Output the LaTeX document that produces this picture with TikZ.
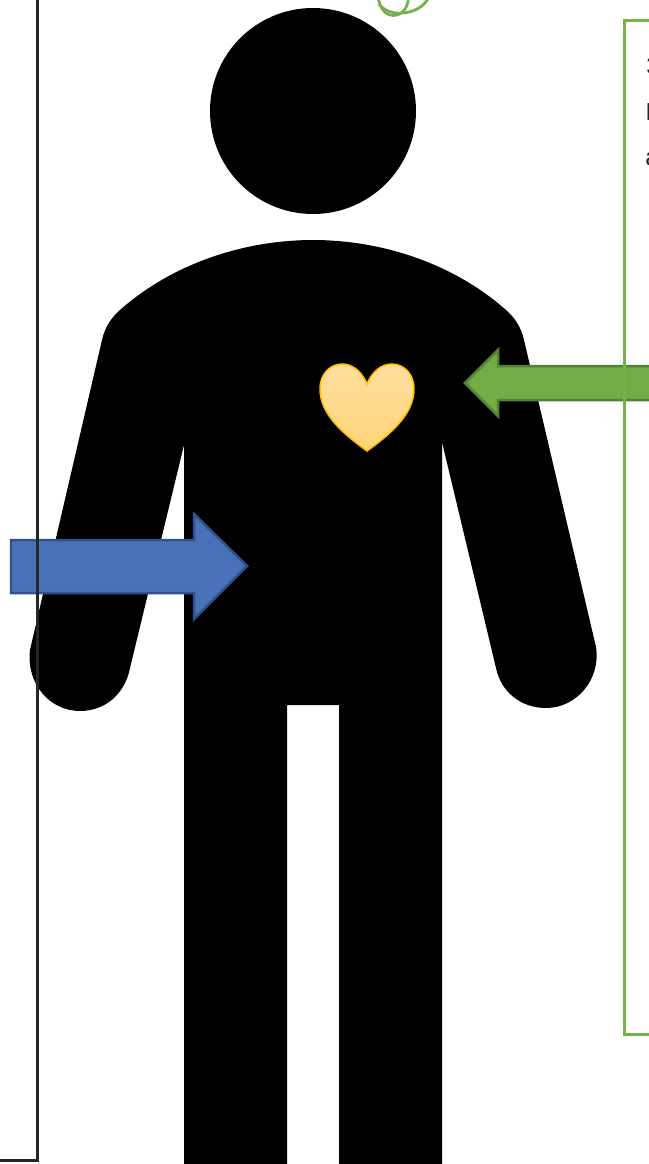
\documentclass[tikz,border=0pt]{standalone}
\usepackage{fontspec}
\setmainfont{Liberation Sans}
\usepackage{xcolor}
\usetikzlibrary{arrows.meta,positioning}
\definecolor{framegreen}{HTML}{74B04C}
\definecolor{arrowgreen}{HTML}{70AD47}
\definecolor{edgegreen}{HTML}{548235}
\definecolor{arrowblue}{HTML}{4A70B8}
\definecolor{edgeblue}{HTML}{2F528F}
\definecolor{frameblack}{HTML}{262626}
\definecolor{heartgold}{HTML}{FFC000}
\definecolor{hearttop}{HTML}{FFDE9E}
\definecolor{heartlow}{HTML}{FFD478}

\begin{document}
\begin{tikzpicture}[
    x=0.02cm, y=-0.02cm,
    figure/.style={fill=black},
    frameline/.style={draw=frameblack, line width=0.055cm},
    greenline/.style={draw=framegreen, line width=0.055cm},
    blockblue/.style={fill=arrowblue, draw=edgeblue, line width=0.05cm, miter limit=10},
    blockgreen/.style={fill=arrowgreen, draw=edgegreen, line width=0.05cm, miter limit=10},
    heartshape/.style={draw=heartgold, line width=0.03cm,
                       top color=hearttop, bottom color=heartlow},
    cuttext/.style={anchor=base west, inner sep=0pt, font=\fontsize{14pt}{15pt}\selectfont, text=frameblack},
  ]
  \useasboundingbox (0,0) rectangle (649,1164);
  \clip (0,0) rectangle (649,1164);

  % Head
  \fill[figure] (313,111) circle [radius=103];

  % Body, clockwise from the left shoulder
  \fill[figure] (120,310)
    .. controls (173,263) and (245,240) .. (313,240)
    .. controls (381,240) and (453,263) .. (506,310)
    .. controls (515,318) and (521,327) .. (524,340)
    -- (596,647)
    .. controls (601,680) and (576,708) .. (546,708)
    .. controls (521,708) and (501,692) .. (496,668)
    -- (442,442)
    -- (442,1164) -- (339,1164) -- (339,705) -- (287,705) -- (287,1164) -- (184,1164)
    -- (184,445)
    -- (130,668)
    .. controls (125,694) and (105,711) .. (80,711)
    .. controls (50,711) and (26,684) .. (30,650)
    -- (102,340)
    .. controls (105,327) and (111,318) .. (120,310)
    -- cycle;

  % Heart
  \path[heartshape] (367,451)
    .. controls (345,435) and (320,415) .. (320,389)
    .. controls (320,373) and (331,364) .. (342,364)
    .. controls (353,364) and (362,372) .. (367,384)
    .. controls (372,372) and (381,364) .. (392,364)
    .. controls (403,364) and (414,373) .. (414,389)
    .. controls (414,415) and (389,435) .. (367,451)
    -- cycle;

  % Arrows
  \path[blockblue] (11,540) -- (194,540) -- (194,514) -- (247,566)
    -- (194,619) -- (194,593) -- (11,593) -- cycle;
  \path[blockgreen] (660,366) -- (498,366) -- (498,350) -- (465,383)
    -- (498,416) -- (498,400) -- (660,400) -- cycle;

  % Frames
  \draw[frameline] (37.5,-5) -- (37.5,1160.5) -- (-5,1160.5);
  \draw[greenline] (660,20.5) -- (624.5,20.5) -- (624.5,1034.5) -- (660,1034.5);

  % Loops above the head
  \draw[greenline] (378,-3)
    .. controls (380,9) and (386,15.5) .. (393,15.5)
    .. controls (402,15.5) and (409,7) .. (408,-3);
  \draw[greenline] (379,4)
    .. controls (384,11) and (394,14) .. (403,13)
    .. controls (414,12) and (424,7) .. (429,-3);

  % Text cut off at the right edge
  \node[cuttext] (lineone) at (646,74) {3};
  \node[cuttext] (linetwo) at (645,120) {I};
  \node[cuttext] (linethree) at (645,165) {a};

\end{tikzpicture}
\end{document}
